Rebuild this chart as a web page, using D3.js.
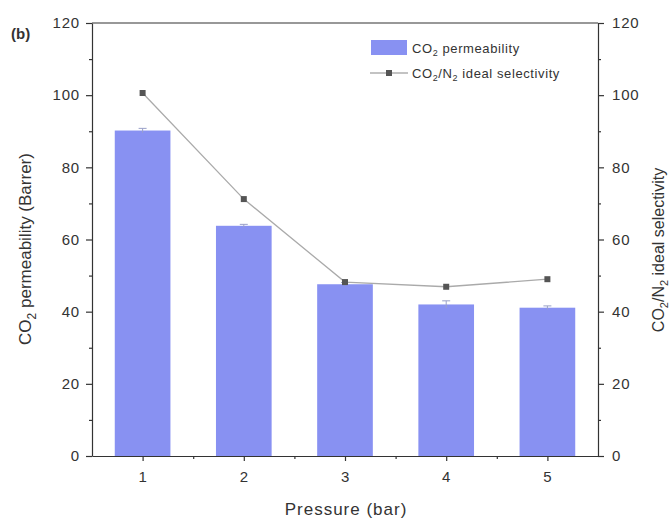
<!DOCTYPE html>
<html><head><meta charset="utf-8">
<script src="https://cdn.jsdelivr.net/npm/d3@7"></script>
<style>body{margin:0;background:#fff}text{font-family:"Liberation Sans",Arial,sans-serif;fill:#333}</style>
</head><body><svg id="c" width="669" height="519"></svg>
<script>
const pressures = [1, 2, 3, 4, 5];
const permeability = [90.2, 63.8, 47.6, 42.0, 41.1];
const permErr = [0.6, 0.4, 0.5, 1.0, 0.5];
const selectivity = [100.6, 71.2, 48.2, 46.9, 49.0];
const yTicks = [0, 20, 40, 60, 80, 100, 120];
const yMinor = [10, 30, 50, 70, 90, 110];
const xMinor = [1.5, 2.5, 3.5, 4.5];

const svg = d3.select("#c");
const L = 92, R = 598, T = 23, B = 456;
const x = d3.scaleLinear().domain([0.5, 5.5]).range([L, R]);
const y = d3.scaleLinear().domain([0, 120]).range([B, T]);
const y2 = d3.scaleLinear().domain([0, 120]).range([B, T]);
const axisColor = "#333";
const bw = x(1.55) - x(1);
const barColor = "#8891f2";

// bars
svg.append("g").selectAll("rect").data(pressures).join("rect")
  .attr("x", (d) => x(d) - bw / 2).attr("width", bw)
  .attr("y", (d, i) => y(permeability[i])).attr("height", (d, i) => B - y(permeability[i]))
  .attr("fill", barColor);

// error bars
const eg = svg.append("g").attr("stroke", "#9aa0c8").attr("stroke-width", 1);
pressures.forEach((p, i) => {
  const top = y(permeability[i] + permErr[i]), bot = y(permeability[i] - permErr[i]);
  eg.append("line").attr("x1", x(p)).attr("x2", x(p)).attr("y1", top).attr("y2", bot);
  eg.append("line").attr("x1", x(p) - 4).attr("x2", x(p) + 4).attr("y1", top).attr("y2", top);
});

// selectivity line
const line = d3.line().x((d, i) => x(pressures[i])).y((d) => y2(d));
svg.append("path").datum(selectivity).attr("d", line)
  .attr("fill", "none").attr("stroke", "#aaa").attr("stroke-width", 1.3);
svg.append("g").selectAll("rect").data(selectivity).join("rect")
  .attr("x", (d, i) => x(pressures[i]) - 3).attr("y", (d) => y2(d) - 3)
  .attr("width", 6).attr("height", 6).attr("fill", "#555");

// axes
function styleAxis(g) {
  g.selectAll("path,line").attr("stroke", axisColor).attr("stroke-width", 1.2);
  g.selectAll("text").attr("fill", "#333").style("font-size", "15px")
    .style("letter-spacing", "0.8px")
    .style("font-family", '"Liberation Sans",Arial,sans-serif');
}
const gl = svg.append("g").attr("transform", `translate(${L},0)`)
  .call(d3.axisLeft(y).tickValues(yTicks).tickSize(6).tickPadding(6).tickSizeOuter(0));
styleAxis(gl);
svg.append("g").attr("transform", `translate(${L},0)`)
  .call(d3.axisLeft(y).tickValues(yMinor).tickSize(3).tickFormat("").tickSizeOuter(0))
  .call(styleAxis).select(".domain").remove();

const gr = svg.append("g").attr("transform", `translate(${R},0)`)
  .call(d3.axisRight(y2).tickValues(yTicks).tickSize(6).tickPadding(8).tickSizeOuter(0));
styleAxis(gr);
svg.append("g").attr("transform", `translate(${R},0)`)
  .call(d3.axisRight(y2).tickValues(yMinor).tickSize(3).tickFormat("").tickSizeOuter(0))
  .call(styleAxis).select(".domain").remove();

const gb = svg.append("g").attr("transform", `translate(0,${B})`)
  .call(d3.axisBottom(x).tickValues(pressures).tickFormat(d3.format("d")).tickSize(5).tickPadding(10).tickSizeOuter(0));
styleAxis(gb);
svg.append("g").attr("transform", `translate(0,${B})`)
  .call(d3.axisBottom(x).tickValues(xMinor).tickSize(3).tickFormat("").tickSizeOuter(0))
  .call(styleAxis).select(".domain").remove();

svg.append("line").attr("x1", L).attr("x2", R).attr("y1", T).attr("y2", T)
  .attr("stroke", axisColor).attr("stroke-width", 1.2);

// titles
svg.append("text").attr("x", 346).attr("y", 515).attr("text-anchor", "middle")
  .style("font-size", "17px").style("letter-spacing", "1px").text("Pressure (bar)");
const lt = svg.append("text").attr("transform", "translate(31,249) rotate(-90)")
  .attr("text-anchor", "middle").style("font-size", "17px");
lt.append("tspan").text("CO");
lt.append("tspan").attr("dy", 5).style("font-size", "12px").text("2");
lt.append("tspan").attr("dy", -5).text(" permeability (Barrer)");
const rt = svg.append("text").attr("transform", "translate(664,250) rotate(-90)")
  .attr("text-anchor", "middle").style("font-size", "16px");
rt.append("tspan").text("CO");
rt.append("tspan").attr("dy", 4).style("font-size", "11px").text("2");
rt.append("tspan").attr("dy", -4).text("/N");
rt.append("tspan").attr("dy", 4).style("font-size", "11px").text("2");
rt.append("tspan").attr("dy", -4).text(" ideal selectivity");

svg.append("text").attr("x", 11).attr("y", 39).style("font-size", "15px")
  .style("font-weight", "bold").text("(b)");

// legend
const lg = svg.append("g");
lg.append("rect").attr("x", 371).attr("y", 40).attr("width", 36).attr("height", 15).attr("fill", barColor);
const t1 = lg.append("text").attr("x", 412).attr("y", 53).style("font-size", "13px").style("letter-spacing", "0.6px");
t1.append("tspan").text("CO");
t1.append("tspan").attr("dy", 3).style("font-size", "9px").text("2");
t1.append("tspan").attr("dy", -3).text(" permeability");
lg.append("line").attr("x1", 370).attr("x2", 408).attr("y1", 73).attr("y2", 73)
  .attr("stroke", "#888").attr("stroke-width", 1.2);
lg.append("rect").attr("x", 386).attr("y", 70).attr("width", 6).attr("height", 6).attr("fill", "#555");
const t2 = lg.append("text").attr("x", 412).attr("y", 78).style("font-size", "13px").style("letter-spacing", "0.6px");
t2.append("tspan").text("CO");
t2.append("tspan").attr("dy", 3).style("font-size", "9px").text("2");
t2.append("tspan").attr("dy", -3).text("/N");
t2.append("tspan").attr("dy", 3).style("font-size", "9px").text("2");
t2.append("tspan").attr("dy", -3).text(" ideal selectivity");
</script></body></html>
